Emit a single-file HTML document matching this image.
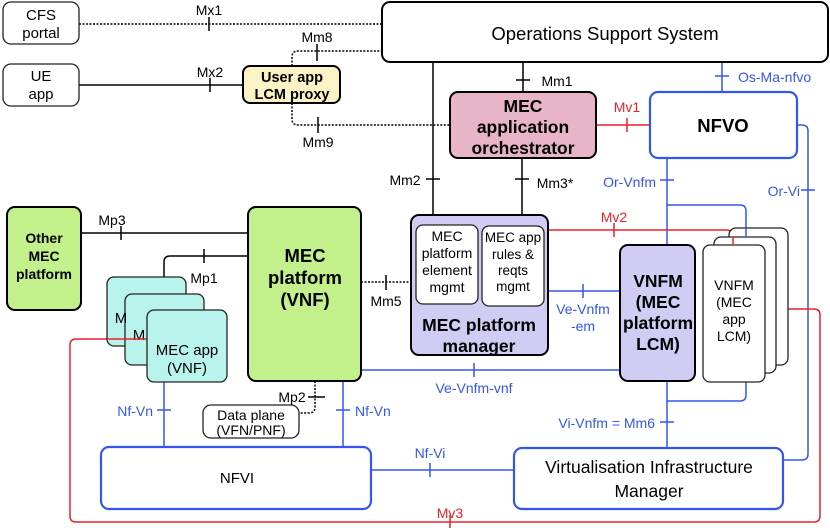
<!DOCTYPE html>
<html><head><meta charset="utf-8"><style>
body{margin:0;background:#fff}
svg{display:block;font-family:"Liberation Sans",sans-serif}
</style></head><body>
<svg width="830" height="528" viewBox="0 0 830 528" xmlns="http://www.w3.org/2000/svg">
<g fill="none" stroke-width="1.5">
<path d="M79 24H382" stroke="#000" stroke-dasharray="2,1.5"/>
<path d="M209 17V31" stroke="#000"/>
<path d="M79 85H243" stroke="#000"/>
<path d="M210 78V92" stroke="#000"/>
<path d="M292 66V57Q292 51 298 51H382" stroke="#000" stroke-dasharray="2,1.5"/>
<path d="M317 44V61" stroke="#000"/>
<path d="M292 103V119Q292 125 298 125H450" stroke="#000" stroke-dasharray="2,1.5"/>
<path d="M318 117V133" stroke="#000"/>
<path d="M523 62V92M516 80H530" stroke="#000"/>
<path d="M433 62V215M426 179H440" stroke="#000"/>
<path d="M522 158V215M515 179H529" stroke="#000"/>
<path d="M81 233H248M121 226V240" stroke="#000"/>
<path d="M248 256H170Q164 256 164 262V290M204 249V263" stroke="#000"/>
<path d="M361 282H411" stroke="#000" stroke-dasharray="2,1.5"/>
<path d="M386 275V290" stroke="#000"/>
<path d="M315 381V407Q315 413 309 413H299" stroke="#000" stroke-dasharray="2,1.5"/>
<path d="M308 397H325" stroke="#000"/>
<g stroke="#3356f0">
<path d="M722 62V92M715 76H729"/>
<path d="M667 158V245M660 180H674"/>
<path d="M667 205H740Q746 205 746 211V237"/>
<path d="M797 125H802Q808 125 808 131V454Q808 460 802 460H783M801 190H815"/>
<path d="M667 381V448M660 422H674"/>
<path d="M667 401H740Q746 401 746 395V382"/>
<path d="M548 291H620M583 284V298"/>
<path d="M361 370H620M474 363V377"/>
<path d="M164 382V447M157 410H171"/>
<path d="M343 381V447M336 410H350"/>
<path d="M371 470H514M430 463V477"/>
</g>
<g stroke="#e8202a">
<path d="M596 125H650M627 118V132"/>
<path d="M548 230H726Q733 230 733 237V245M614 223V237"/>
<path d="M765 309H814Q820 309 820 315V516Q820 522 814 522H76Q70 522 70 516V345Q70 339 76 339H107M450 515V528"/>
</g>
</g>
<g stroke="#222" stroke-width="1.3">
<rect x="3" y="2" width="76" height="42" rx="8" fill="#fff"/>
<rect x="3" y="64" width="76" height="42" rx="8" fill="#fff"/>
<rect x="107" y="277" width="79" height="69" rx="7" fill="#b8f4ec"/>
<rect x="125" y="294" width="79" height="71" rx="7" fill="#b8f4ec"/>
</g>
<text x="121" y="323" font-size="15" text-anchor="middle">M</text>
<text x="139" y="340" font-size="15" text-anchor="middle">M</text>
<path d="M107 339H150" stroke="#e8202a" stroke-width="1.5"/>
<g stroke="#222" stroke-width="1.3">
<rect x="147" y="310" width="80" height="72" rx="7" fill="#b8f4ec"/>
<rect x="203" y="405" width="96" height="33" rx="8" fill="#fff"/>
<rect x="729" y="228" width="59" height="137" rx="7" fill="#fff"/>
<rect x="714" y="237" width="62" height="136" rx="7" fill="#fff"/>
<rect x="703" y="245" width="62" height="137" rx="7" fill="#fff"/>
</g>
<path d="M733 237V245" stroke="#e8202a" stroke-width="1.5"/>
<path d="M746 228V237" stroke="#3356f0" stroke-width="1.5"/>
<g stroke="#000" stroke-width="2">
<rect x="382" y="2" width="446" height="60" rx="8" fill="#fff"/>
<rect x="243" y="66" width="97" height="37" rx="7" fill="#fbf3c6"/>
<rect x="450" y="92" width="146" height="66" rx="8" fill="#e8b4c8"/>
<rect x="411" y="215" width="137" height="140" rx="8" fill="#d0ccf4"/>
<rect x="620" y="245" width="75" height="136" rx="8" fill="#d0ccf4"/>
<rect x="248" y="207" width="113" height="174" rx="8" fill="#c2f08b"/>
<rect x="7" y="207" width="74" height="103" rx="8" fill="#c2f08b"/>
</g>
<g stroke="#222" stroke-width="1.3" fill="#fff">
<rect x="416" y="225" width="62" height="79" rx="7"/>
<rect x="482" y="226" width="62" height="80" rx="7"/>
</g>
<g stroke="#3356f0" stroke-width="2.2" fill="#fff">
<rect x="650" y="92" width="147" height="66" rx="8"/>
<rect x="101" y="447" width="270" height="62" rx="8"/>
<rect x="514" y="448" width="269" height="61" rx="8"/>
</g>
<g font-size="15" text-anchor="middle" fill="#000">
<text x="41" y="20">CFS</text><text x="41" y="38">portal</text>
<text x="41" y="81">UE</text><text x="41" y="99">app</text>
<text x="605" y="40" font-size="18.5">Operations Support System</text>
<text x="649" y="473" font-size="17.5">Virtualisation Infrastructure</text>
<text x="649" y="497" font-size="17.5">Manager</text>
<text x="237" y="483" font-size="15">NFVI</text>
<text x="209" y="15" font-size="14">Mx1</text>
<text x="210" y="77" font-size="14">Mx2</text>
<text x="317" y="42" font-size="14">Mm8</text>
<text x="318" y="147" font-size="14">Mm9</text>
<text x="557" y="86" font-size="14">Mm1</text>
<text x="405" y="185" font-size="14">Mm2</text>
<text x="555" y="188" font-size="14">Mm3*</text>
<text x="112" y="225" font-size="14">Mp3</text>
<text x="204" y="283" font-size="14">Mp1</text>
<text x="386" y="306" font-size="14">Mm5</text>
<text x="292" y="402" font-size="14">Mp2</text>
<text x="251" y="420" font-size="14">Data plane</text>
<text x="251" y="435" font-size="14">(VFN/PNF)</text>
<text x="187" y="355" font-size="15">MEC app</text>
<text x="187" y="373" font-size="15">(VNF)</text>
<text x="447" y="241" font-size="14">MEC</text>
<text x="447" y="258" font-size="14">platform</text>
<text x="447" y="275" font-size="14">element</text>
<text x="447" y="292" font-size="14">mgmt</text>
<text x="513" y="242" font-size="13.5">MEC app</text>
<text x="513" y="259" font-size="13.5">rules &amp;</text>
<text x="513" y="275" font-size="13.5">reqts</text>
<text x="513" y="291" font-size="13.5">mgmt</text>
<text x="734" y="290" font-size="14">VNFM</text>
<text x="734" y="307" font-size="14">(MEC</text>
<text x="734" y="324" font-size="14">app</text>
<text x="734" y="341" font-size="14">LCM)</text>
<g font-weight="bold">
<text x="292" y="82" font-size="14.5">User app</text>
<text x="292" y="99" font-size="14.5">LCM proxy</text>
<text x="523" y="112" font-size="17.5">MEC</text>
<text x="523" y="133" font-size="17.5">application</text>
<text x="523" y="154" font-size="17.5">orchestrator</text>
<text x="723" y="132" font-size="18.5">NFVO</text>
<text x="479" y="331" font-size="17.5">MEC platform</text>
<text x="479" y="352" font-size="17.5">manager</text>
<text x="658" y="287" font-size="17.5">VNFM</text>
<text x="658" y="308" font-size="17.5">(MEC</text>
<text x="658" y="329" font-size="17.5">platform</text>
<text x="658" y="350" font-size="17.5">LCM)</text>
<text x="305" y="262" font-size="18.5">MEC</text>
<text x="305" y="284" font-size="18.5">platform</text>
<text x="305" y="306" font-size="18.5">(VNF)</text>
<text x="44" y="243" font-size="14">Other</text>
<text x="44" y="261" font-size="14">MEC</text>
<text x="44" y="279" font-size="14">platform</text>
</g>
</g>
<g font-size="14" fill="#3356f0">
<text x="738" y="82">Os-Ma-nfvo</text>
<text x="656" y="187" text-anchor="end">Or-Vnfm</text>
<text x="800" y="196" text-anchor="end">Or-Vi</text>
<text x="583" y="314" text-anchor="middle">Ve-Vnfm</text>
<text x="583" y="331" text-anchor="middle">-em</text>
<text x="474" y="393" text-anchor="middle">Ve-Vnfm-vnf</text>
<text x="655" y="428" text-anchor="end">Vi-Vnfm = Mm6</text>
<text x="153" y="416" text-anchor="end">Nf-Vn</text>
<text x="355" y="416">Nf-Vn</text>
<text x="430" y="458" text-anchor="middle">Nf-Vi</text>
</g>
<g font-size="14" fill="#e8202a" text-anchor="middle">
<text x="627" y="112">Mv1</text>
<text x="614" y="222">Mv2</text>
<text x="450" y="518">Mv3</text>
</g>
</svg>
</body></html>
